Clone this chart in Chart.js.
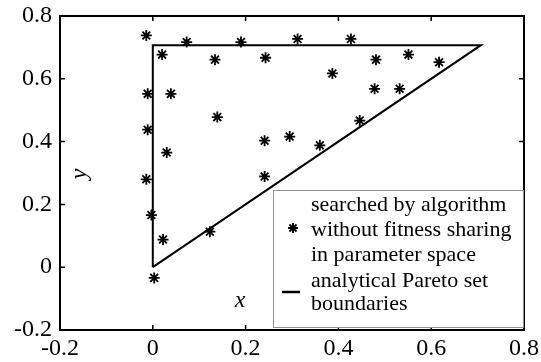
<!DOCTYPE html>
<html>
<head>
<meta charset="utf-8">
<script src="https://cdn.jsdelivr.net/npm/chart.js@4.4.1/dist/chart.umd.min.js"></script>
<style>
  html, body { margin: 0; padding: 0; background: #fff; }
  #wrap { width: 541px; height: 362px; }
</style>
</head>
<body>
<div id="wrap"><canvas id="chart"></canvas></div>
<script>
// points found by the algorithm
const searchX = [-0.014, 0.020, 0.073, 0.134, 0.190, 0.243, 0.312, 0.427, 0.387, 0.481,
                 0.551, 0.617, -0.011, 0.039, 0.139, 0.478, 0.532, -0.011, 0.030, 0.241,
                 0.295, 0.360, 0.446, -0.014, 0.241, -0.003, 0.022, 0.123, 0.003];
const searchY = [0.738, 0.677, 0.717, 0.661, 0.717, 0.667, 0.727, 0.727, 0.617, 0.661,
                 0.677, 0.653, 0.552, 0.552, 0.478, 0.568, 0.568, 0.438, 0.365, 0.403,
                 0.416, 0.388, 0.467, 0.280, 0.289, 0.166, 0.088, 0.113, -0.034];
// analytical Pareto set boundary (triangle)
const paretoX = [0, 0, 0.7071, 0];
const paretoY = [0, 0.7071, 0.7071, 0];
const tickValues = [-0.2, 0, 0.2, 0.4, 0.6, 0.8];
const legendLines = [
    ["searched by algorithm", "without fitness sharing", "in parameter space"],
    ["analytical Pareto set", "boundaries"]
];

const serif = "'Liberation Serif', 'Times New Roman', serif";

function starAt(ctx, x, y, r) {
    ctx.beginPath();
    for (let i = 0; i < 4; i++) {
        const a = i * Math.PI / 4;
        ctx.moveTo(x - r * Math.cos(a), y - r * Math.sin(a));
        ctx.lineTo(x + r * Math.cos(a), y + r * Math.sin(a));
    }
    ctx.stroke();
}

// keep the plot box fixed, labels may hang over the edges
function noOverflow(s) {
    s.paddingLeft = 0;
    s.paddingRight = 0;
    s.paddingTop = 0;
    s.paddingBottom = 0;
}

// box, inward ticks, axis letters and the legend
const framePlugin = {
    id: 'frame',
    afterDraw(chart) {
        const ctx = chart.ctx;
        const a = chart.chartArea;
        const xs = chart.scales.x;
        const ys = chart.scales.y;
        ctx.save();
        ctx.strokeStyle = '#000';
        ctx.lineWidth = 2;
        ctx.strokeRect(a.left, a.top, a.right - a.left, a.bottom - a.top);

        ctx.lineWidth = 1.5;
        ctx.beginPath();
        tickValues.forEach(v => {
            const px = xs.getPixelForValue(v);
            ctx.moveTo(px, a.bottom); ctx.lineTo(px, a.bottom - 5);
            ctx.moveTo(px, a.top); ctx.lineTo(px, a.top + 5);
            const py = ys.getPixelForValue(v);
            ctx.moveTo(a.left, py); ctx.lineTo(a.left + 5, py);
            ctx.moveTo(a.right, py); ctx.lineTo(a.right - 5, py);
        });
        ctx.stroke();

        // axis letters sit inside the plot
        ctx.fillStyle = '#000';
        ctx.font = 'italic 24px ' + serif;
        ctx.textAlign = 'center';
        ctx.textBaseline = 'middle';
        ctx.fillText('x', a.left + 180, a.bottom - 29);
        ctx.save();
        ctx.translate(a.left + 20, a.top + 158);
        ctx.rotate(-Math.PI / 2);
        ctx.fillText('y', 0, 0);
        ctx.restore();

        // legend
        const lx = a.right - 251, ly = a.top + 174, lw = 251, lh = 138;
        ctx.fillStyle = '#fff';
        ctx.fillRect(lx, ly, lw, lh);
        ctx.strokeStyle = '#222';
        ctx.lineWidth = 1;
        ctx.setLineDash([1, 1]);
        ctx.strokeRect(lx + 0.5, ly + 0.5, lw - 1, lh - 1);
        ctx.setLineDash([]);

        ctx.fillStyle = '#000';
        ctx.font = '22px ' + serif;
        ctx.textAlign = 'left';
        ctx.textBaseline = 'middle';
        const rows1 = [15, 40, 65];
        legendLines[0].forEach((t, i) => ctx.fillText(t, lx + 38, ly + rows1[i]));
        const rows2 = [91, 114];
        legendLines[1].forEach((t, i) => ctx.fillText(t, lx + 38, ly + rows2[i]));

        ctx.strokeStyle = '#000';
        ctx.lineWidth = 2;
        starAt(ctx, lx + 20, ly + 38, 5);
        ctx.lineWidth = 2.5;
        ctx.beginPath();
        ctx.moveTo(lx + 9, ly + 102);
        ctx.lineTo(lx + 27, ly + 102);
        ctx.stroke();
        ctx.restore();
    }
};

const ctx = document.getElementById('chart').getContext('2d');
new Chart(ctx, {
    type: 'scatter',
    data: {
        datasets: [{
            label: 'searched by algorithm without fitness sharing in parameter space',
            data: searchX.map((x, i) => ({ x: x, y: searchY[i] })),
            pointStyle: 'star',
            pointRadius: 5.5,
            pointBorderWidth: 1.8,
            borderColor: '#000',
            backgroundColor: '#000',
            showLine: false
        }, {
            label: 'analytical Pareto set boundaries',
            data: paretoX.map((x, i) => ({ x: x, y: paretoY[i] })),
            showLine: true,
            borderColor: '#000',
            borderWidth: 2,
            pointRadius: 0,
            tension: 0
        }]
    },
    options: {
        responsive: true,
        maintainAspectRatio: false,
        animation: false,
        layout: { padding: { top: 16, right: 17, left: 0, bottom: 0 } },
        plugins: {
            legend: { display: false },
            tooltip: { enabled: false }
        },
        scales: {
            x: {
                type: 'linear',
                min: -0.2,
                max: 0.8,
                afterBuildTicks: s => { s.ticks = tickValues.map(v => ({ value: v })); },
                afterFit: s => { s.height = 32; noOverflow(s); },
                grid: { display: false, drawTicks: false },
                border: { display: false },
                ticks: {
                    color: '#000',
                    padding: 4,
                    font: { size: 24, family: serif },
                    callback: v => String(Math.round(v * 10) / 10)
                }
            },
            y: {
                type: 'linear',
                min: -0.2,
                max: 0.8,
                afterBuildTicks: s => { s.ticks = tickValues.map(v => ({ value: v })); },
                afterFit: s => { s.width = 60; noOverflow(s); },
                grid: { display: false, drawTicks: false },
                border: { display: false },
                ticks: {
                    color: '#000',
                    padding: 8,
                    font: { size: 24, family: serif },
                    callback: v => String(Math.round(v * 10) / 10)
                }
            }
        }
    },
    plugins: [framePlugin]
});
</script>
</body>
</html>
